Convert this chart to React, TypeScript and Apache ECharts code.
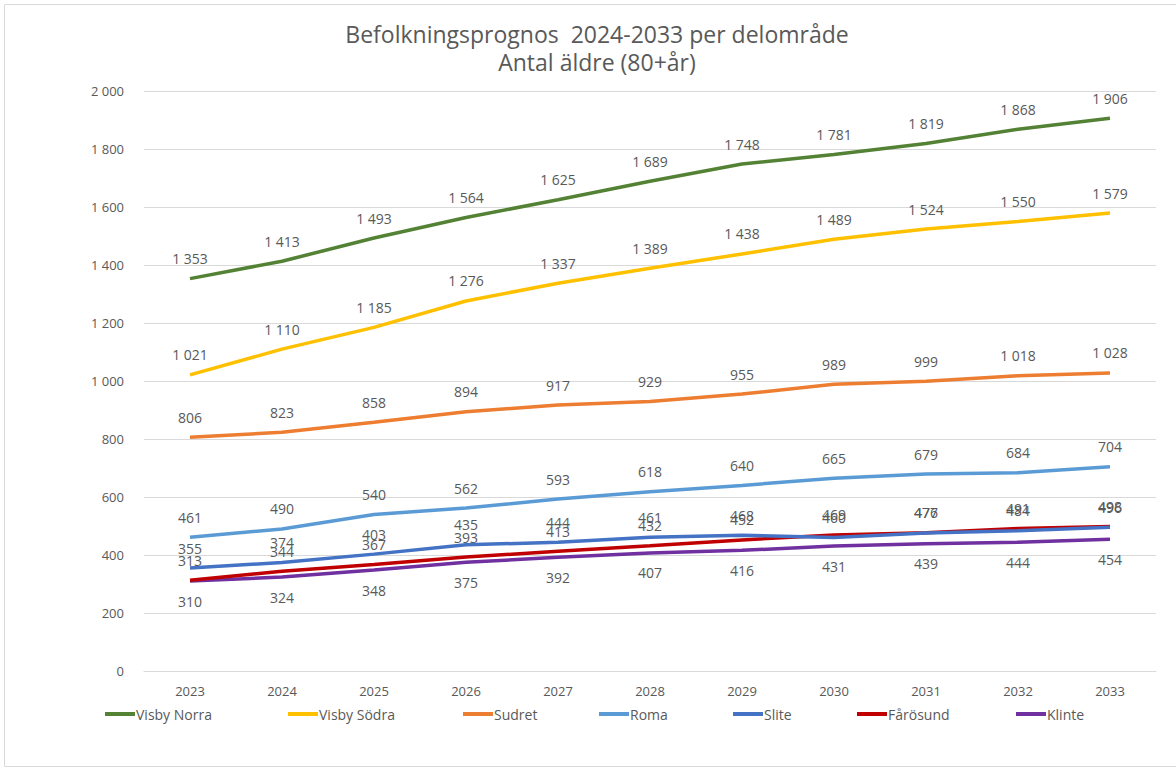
import React, { useEffect, useRef } from "react";
import * as echarts from "echarts";

const years = ["2023", "2024", "2025", "2026", "2027", "2028", "2029", "2030", "2031", "2032", "2033"];
const visbyNorra = [1353, 1413, 1493, 1564, 1625, 1689, 1748, 1781, 1819, 1868, 1906];
const visbySodra = [1021, 1110, 1185, 1276, 1337, 1389, 1438, 1489, 1524, 1550, 1579];
const sudret = [806, 823, 858, 894, 917, 929, 955, 989, 999, 1018, 1028];
const roma = [461, 490, 540, 562, 593, 618, 640, 665, 679, 684, 704];
const slite = [355, 374, 403, 435, 444, 461, 468, 460, 476, 484, 496];
const farosund = [313, 344, 367, 393, 413, 432, 452, 469, 477, 491, 498];
const klinte = [310, 324, 348, 375, 392, 407, 416, 431, 439, 444, 454];
const yTicks = [0, 200, 400, 600, 800, 1000, 1200, 1400, 1600, 1800, 2000];

const names = ["Visby Norra", "Visby Södra", "Sudret", "Roma", "Slite", "Fårösund", "Klinte"];
const colors = ["#548235", "#FFC000", "#ED7D31", "#5B9BD5", "#4472C4", "#C00000", "#7030A0"];
const seriesData = [visbyNorra, visbySodra, sudret, roma, slite, farosund, klinte];
const legendLeft = [100, 283, 458, 594, 728, 852, 1011];

const fmt = (v: number) => {
  const s = String(Math.round(v));
  return s.length > 3 ? s.slice(0, s.length - 3) + " " + s.slice(s.length - 3) : s;
};

export default function App() {
  const ref = useRef<HTMLDivElement>(null);
  useEffect(() => {
    if (!ref.current) return;
    const chart = echarts.init(ref.current, undefined, { renderer: "svg" });
    const font = "'Open Sans', 'DejaVu Sans', sans-serif";
    chart.setOption({
      animation: false,
      backgroundColor: "#ffffff",
      textStyle: { fontFamily: font },
      title: {
        text: "Befolkningsprognos  2024-2033 per delområde\nAntal äldre (80+år)",
        left: 592,
        textAlign: "center",
        top: 15,
        textStyle: {
          fontFamily: font,
          fontSize: 23,
          fontWeight: "normal",
          color: "#595959",
          lineHeight: 28,
        },
      },
      graphic: [
        {
          type: "rect",
          shape: { x: 4.5, y: 4.5, width: 1180, height: 762 },
          style: { fill: "none", stroke: "#d9d9d9", lineWidth: 1 },
          silent: true,
        },
      ],
      legend: names.map((n, i) => ({
        data: [n],
        left: legendLeft[i],
        top: 702,
        itemWidth: 30,
        itemHeight: 4,
        itemGap: 0,
        icon: "rect",
        textStyle: {
          fontFamily: font,
          fontSize: 14,
          color: "#595959",
          padding: [0, 0, 0, -4],
        },
      })),
      grid: { left: 144, right: 20, top: 91, bottom: 100, containLabel: false },
      xAxis: {
        type: "category",
        data: years,
        boundaryGap: true,
        axisLine: { lineStyle: { color: "#d9d9d9" } },
        axisTick: { show: false },
        axisLabel: { color: "#595959", fontSize: 13, margin: 13 },
      },
      yAxis: {
        type: "value",
        min: yTicks[0],
        max: yTicks[yTicks.length - 1],
        interval: 200,
        axisLine: { show: false },
        axisTick: { show: false },
        splitLine: { lineStyle: { color: "#d9d9d9" } },
        axisLabel: { color: "#595959", fontSize: 13, margin: 20, formatter: (v: number) => fmt(v) },
      },
      series: names.map((n, i) => ({
        name: n,
        type: "line",
        data: seriesData[i],
        symbol: "circle",
        symbolSize: 0,
        showSymbol: true,
        showAllSymbol: true,
        color: colors[i],
        lineStyle: { width: 3.5, color: colors[i] },
        label: {
          show: true,
          position: i === 6 ? "bottom" : "top",
          distance: 13,
          color: "#595959",
          fontSize: 14,
          formatter: (p: any) => fmt(p.value),
        },
        labelLayout: { hideOverlap: false },
        z: 10 - i,
      })),
    });
    return () => chart.dispose();
  }, []);
  return <div ref={ref} style={{ position: "fixed", left: 0, top: 0, width: 1176, height: 771 }} />;
}
